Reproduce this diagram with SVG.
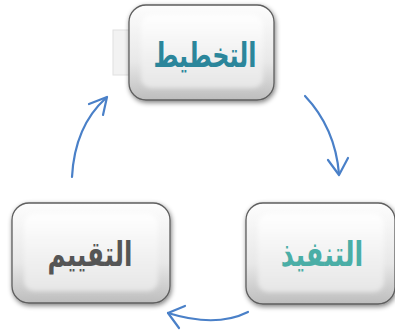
<svg xmlns="http://www.w3.org/2000/svg" width="395" height="333" viewBox="0 0 395 333">
<defs>
<linearGradient id="bg" x1="0" y1="0" x2="0" y2="1">
<stop offset="0" stop-color="#fdfdfd"/>
<stop offset="0.6" stop-color="#e8e8e8"/>
<stop offset="1" stop-color="#bdbdbd"/>
</linearGradient>
<linearGradient id="face" x1="0" y1="0" x2="0" y2="1">
<stop offset="0" stop-color="#ffffff"/>
<stop offset="1" stop-color="#e6e6e6"/>
</linearGradient>
<filter id="sh" x="-20%" y="-20%" width="140%" height="140%">
<feGaussianBlur in="SourceAlpha" stdDeviation="2.5"/>
<feOffset dx="1" dy="2"/>
<feComponentTransfer><feFuncA type="linear" slope="0.5"/></feComponentTransfer>
<feMerge><feMergeNode/><feMergeNode in="SourceGraphic"/></feMerge>
</filter>
<filter id="soft"><feGaussianBlur stdDeviation="2"/></filter>
</defs>
<style>
.box{fill:url(#bg);stroke:#5e5e5e;stroke-width:1.3;filter:url(#sh)}
.inner{fill:url(#face);filter:url(#soft)}
.lbl{font-family:"DejaVu Sans",sans-serif;font-weight:bold;font-size:30px;text-anchor:middle}
.conn{fill:none;stroke:#4a80c8;stroke-width:2.2;stroke-linecap:round;stroke-linejoin:round}
</style>
<rect x="113" y="30" width="17" height="45" fill="#f2f2f2" stroke="#e0e0e0" stroke-width="1"/>
<g id="connectors">
<path class="conn" d="M72,177 C74,140 86,116 106,98"/>
<path class="conn" d="M89,104 L107,97 L103,115"/>
<path class="conn" d="M305,96 C322,114 336,138 339,174"/>
<path class="conn" d="M328,160 L339,175 L348,158"/>
<path class="conn" d="M248,312 C228,322 200,323 168,313"/>
<path class="conn" d="M185,306 L168,313 L179,328"/>
</g>
<g id="node-planning">
<rect class="box" x="129" y="5" width="145" height="95" rx="17"/>
<rect class="inner" x="141" y="15" width="122" height="73" rx="10"/>
<text class="lbl" transform="translate(205,67) scale(0.8,1.15)" fill="#2b869b">التخطيط</text>
</g>
<g id="node-execution">
<rect class="box" x="246" y="203" width="149" height="101" rx="17"/>
<rect class="inner" x="258" y="214" width="126" height="78" rx="10"/>
<text class="lbl" transform="translate(322,266) scale(0.85,1.15)" fill="#4aaea6">التنفيذ</text>
</g>
<g id="node-evaluation">
<rect class="box" x="12" y="203" width="158" height="100" rx="17"/>
<rect class="inner" x="24" y="214" width="134" height="77" rx="10"/>
<text class="lbl" transform="translate(90,266) scale(0.82,1.15)" fill="#555555">التقييم</text>
</g>
</svg>
